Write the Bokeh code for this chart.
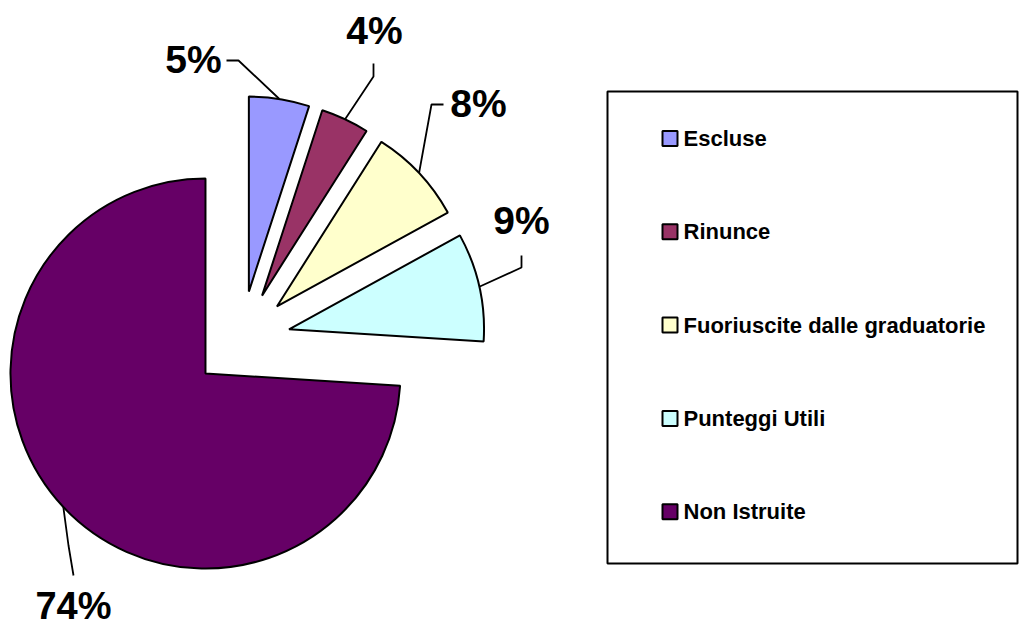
import math
from bokeh.plotting import figure
from bokeh.models import Range1d
from bokeh.core.properties import value
from bokeh.embed import file_html
from bokeh.resources import INLINE

# ---- data ----
categories = ["Escluse", "Rinunce", "Fuoriuscite dalle graduatorie", "Punteggi Utili", "Non Istruite"]
values = [5, 4, 8, 9, 74]
pct_labels = ["5%", "4%", "8%", "9%", "74%"]
colors = ["#9999FF", "#993366", "#FFFFCC", "#CCFFFF", "#660066"]

# ---- layout (page pixel coordinates, y downwards) ----
CX, CY = 240.7, 339.5      # true pie centre
R = 195                    # radius
EXPLODE = 49               # explode distance for every slice
label_pos = [(193, 59), (374, 30), (478, 103), (521, 220), (73, 605)]
label_size = ["39px", "39px", "39px", "39px", "38px"]
elbow_pts = [(238, 60), (373, 76), (431, 104), (521, 267), (68, 545)]
end_pts = [(226, 60), (373, 63), (443, 104), (521, 255), (73, 575)]
LEG_BOX = (607, 91, 1017, 563)
LEG_X_SQ, LEG_Y0, LEG_STEP, LEG_SQ = 669.5, 138, 93.3, 15
FONT = "Liberation Sans"

W, H = 1020, 625
p = figure(width=W, height=H, output_backend="svg", toolbar_location=None,
           x_range=Range1d(0, W), y_range=Range1d(-H, 0),
           min_border=0, outline_line_color=None)
p.axis.visible = False
p.grid.visible = False
p.background_fill_color = "white"

total = float(sum(values))
cum = 0.0
for i, v in enumerate(values):
    f0 = cum / total
    f1 = (cum + v) / total
    cum += v
    mid = 2 * math.pi * (f0 + f1) / 2  # clockwise from top
    dx, dy = math.sin(mid), -math.cos(mid)  # page coords (y down)
    ox, oy = CX + EXPLODE * dx, CY + EXPLODE * dy
    p.wedge(x=[ox], y=[-oy], radius=R,
            start_angle=math.pi / 2 - 2 * math.pi * f1,
            end_angle=math.pi / 2 - 2 * math.pi * f0,
            direction="anticlock", fill_color=colors[i],
            line_color="black", line_width=2)
    # leader line
    ax, ay = ox + R * dx, oy + R * dy
    ex, ey = elbow_pts[i]
    tx, ty = end_pts[i]
    p.line(x=[ax, ex, tx], y=[-ay, -ey, -ty], line_color="black", line_width=1.8)
    lx, ly = label_pos[i]
    p.text(x=[lx], y=[-ly], text=[pct_labels[i]], text_font=value(FONT),
           text_font_style="bold", text_font_size=label_size[i],
           text_align="center", text_baseline="middle", text_color="black")

# ---- legend ----
x0, y0, x1, y1 = LEG_BOX
p.quad(left=[x0], right=[x1], top=[-y0], bottom=[-y1], fill_color="white",
       line_color="black", line_width=2)
for i, c in enumerate(categories):
    yy = LEG_Y0 + i * LEG_STEP
    p.rect(x=[LEG_X_SQ], y=[-yy], width=LEG_SQ, height=LEG_SQ,
           fill_color=colors[i], line_color="black", line_width=2)
    p.text(x=[LEG_X_SQ + LEG_SQ / 2 + 6], y=[-yy], text=[c], text_font=value(FONT),
           text_font_style="bold", text_font_size="22px",
           text_align="left", text_baseline="middle", text_color="black")

open("out.html", "w").write(file_html(p, INLINE))
